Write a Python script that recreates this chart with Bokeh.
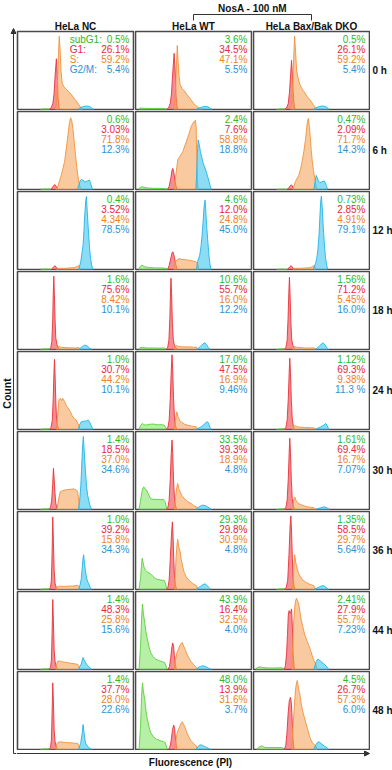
from math import pi
from bokeh.plotting import figure
from bokeh.layouts import row, column
from bokeh.models import Range1d, Arrow, NormalHead
from bokeh.core.properties import value
from bokeh.embed import file_html
from bokeh.resources import INLINE

# ---------------- data ----------------
COLUMN_TITLES = ["HeLa NC", "HeLa WT", "HeLa Bax/Bak DKO"]
ROW_LABELS = ["0 h", "6 h", "12 h", "18 h", "24 h", "30 h", "36 h", "44 h", "48 h"]
PHASE_NAMES = ["subG1:", "G1:", "S:", "G2/M:"]

PCT_NC = [("0.5%", "26.1%", "59.2%", "5.4%"), ("0.6%", "3.03%", "71.8%", "12.3%"),
          ("0.4%", "3.52%", "4.34%", "78.5%"), ("1.6%", "75.6%", "8.42%", "10.1%"),
          ("1.0%", "30.7%", "44.2%", "10.1%"), ("1.4%", "18.5%", "37.0%", "34.6%"),
          ("1.0%", "39.2%", "15.8%", "34.3%"), ("1.4%", "48.3%", "25.8%", "15.6%"),
          ("1.4%", "37.7%", "28.0%", "22.6%")]
PCT_WT = [("3.6%", "34.5%", "47.1%", "5.5%"), ("2.4%", "7.6%", "58.8%", "18.8%"),
          ("4.6%", "12.0%", "24.8%", "45.0%"), ("10.6%", "55.7%", "16.0%", "12.2%"),
          ("17.0%", "47.5%", "16.9%", "9.46%"), ("33.5%", "39.3%", "18.9%", "4.8%"),
          ("29.3%", "29.8%", "30.9%", "4.8%"), ("43.9%", "16.4%", "32.5%", "4.0%"),
          ("48.0%", "13.9%", "31.6%", "3.7%")]
PCT_DKO = [("0.5%", "26.1%", "59.2%", "5.4%"), ("0,47%", "2.09%", "71.7%", "14.3%"),
           ("0.73%", "2.85%", "4.91%", "79.1%"), ("1.56%", "71.2%", "5.45%", "16.0%"),
           ("1.12%", "69.3%", "9.38%", "11.3 %"), ("1.61%", "69.4%", "16.7%", "7.07%"),
           ("1.35%", "58.5%", "29.7%", "5.64%"), ("2.41%", "27.9%", "55.7%", "7.23%"),
           ("4.5%", "26.7%", "57.3%", "6.0%")]

# histogram outlines: (fluorescence position %, count % of panel height)
NC_0H = dict(
    g=[(20, 0), (22, 0.8), (26, 0.8), (28, 0)],
    r=[(27, 0), (29, 2), (30.5, 8), (31.5, 20), (32.5, 45), (33.5, 65), (34.3, 45), (35, 15), (35.8, 3), (36.5, 0)],
    o=[(32.5, 0), (33.5, 8), (34.5, 35), (35.3, 70), (36, 94), (36.8, 75), (37.6, 48), (38.5, 34), (40, 29), (42, 26), (44, 23), (46, 20), (48, 16), (50, 12), (52, 8), (54, 4), (55.5, 1), (56, 0)],
    b=[(52, 0), (54, 2), (56, 3.5), (59, 4.5), (62, 4), (64, 2), (65.5, 0)])
WT_0H = dict(
    g=[(3, 0), (4, 2), (8, 1.5), (15, 1.2), (22, 1.5), (26, 1), (27, 0)],
    r=[(26.5, 0), (28.5, 2), (30, 8), (31, 20), (32, 45), (33.3, 72), (34.2, 50), (35, 18), (35.8, 4), (36.3, 0)],
    o=[(33, 0), (34, 12), (35, 45), (36, 82), (36.8, 60), (37.6, 42), (38.5, 32), (40, 27), (42, 24), (44, 20), (46, 16), (48, 12), (50, 8), (52, 5), (54, 3), (56, 1), (57, 0)],
    b=[(52, 0), (54, 1.5), (57, 3), (60, 4), (62.5, 3.5), (64.5, 1.5), (66, 0)])
DKO_0H = dict(
    g=[(20, 0), (22, 0.8), (26, 0.8), (28, 0)],
    r=[(26.5, 0), (28.5, 2), (30, 8), (31, 22), (32, 45), (32.8, 63), (33.6, 42), (34.5, 14), (35.3, 3), (36, 0)],
    o=[(32, 0), (33, 8), (34, 38), (34.8, 72), (35.4, 94), (36.2, 76), (37.2, 50), (38.5, 40), (40, 32), (42, 26), (43.5, 23), (46, 17), (49, 12), (51, 7), (53, 3), (54, 0)],
    b=[(51.5, 0), (53.5, 2), (56, 3.5), (59, 4.5), (62, 4), (64, 2), (65, 0)])

NC_6H = dict(
    g=[(20, 0), (22, 0.5), (27, 0.5), (29, 0)],
    r=[(28.5, 0), (30, 2.5), (31.2, 5), (32, 6.4), (33, 5), (34, 2), (35, 0)],
    o=[(33, 0), (34.5, 3), (36, 10), (37.7, 18), (39, 26), (40.6, 36), (42, 52), (43.5, 70), (44.8, 86), (45.8, 92), (46.8, 88), (47.8, 78), (49, 60), (50, 44), (51, 30), (52, 18), (53, 9), (53.6, 5), (54.5, 0)],
    b=[(51.5, 0), (53, 6), (54, 11), (55, 13), (56.5, 11.5), (58.5, 10), (60.5, 11), (62, 12), (63, 8), (64, 3), (65, 0)])
WT_6H = dict(
    g=[(3, 0), (4, 3), (6, 3.4), (10, 2), (16, 1.5), (22, 1.5), (26, 1), (27.5, 0)],
    r=[(27.5, 0), (29, 4), (30.5, 15), (31.5, 25), (32.2, 27), (33, 22), (34, 12), (35, 4), (36, 0)],
    o=[(33, 0), (34.5, 15), (36.4, 38), (38.5, 43), (40.8, 48.5), (42.5, 56), (43.7, 61), (45.8, 70), (47, 76), (48, 80.7), (49.5, 85), (50.4, 87), (51, 86), (51.6, 89), (52.3, 80), (52.8, 40), (53.4, 10), (54, 0)],
    b=[(52, 0), (52.6, 15), (53.3, 45), (54, 63.5), (55, 57), (56, 48.5), (57, 42), (58, 35.6), (59.5, 29), (61, 23), (62.3, 16), (63.5, 10), (64.5, 4), (65.6, 0)])
DKO_6H = dict(
    g=[(20, 0), (22, 0.5), (27, 0.5), (29, 0)],
    r=[(29, 0), (30.5, 2.5), (31.8, 5), (32.6, 6), (33.5, 4.5), (34.5, 1.5), (35.2, 0)],
    o=[(34, 0), (36, 10), (39, 18), (40.5, 26), (42, 36), (43.5, 50), (45, 66), (46.2, 84), (47.2, 91), (48.2, 80), (49, 66), (49.8, 50), (50.7, 36), (51.7, 24), (52.8, 14), (53.7, 6), (54.5, 0)],
    b=[(52, 0), (53, 9), (54, 18), (55, 15), (56, 11), (57, 9), (58.5, 9.5), (60, 10.5), (61, 11), (62, 8), (63, 4), (64, 0)])

NC_12H = dict(
    g=[(20, 0), (22, 0.5), (27, 0.5), (29, 0)],
    r=[(29, 0), (30.5, 2), (31.5, 4), (32.3, 4.7), (33.2, 3.5), (34.3, 1.5), (35, 0)],
    o=[(33.5, 0), (35, 1.5), (40, 1.5), (45, 2), (49, 2.5), (51.5, 4), (53, 5), (54, 0)],
    b=[(52.5, 0), (53.5, 4), (54.5, 10), (55.5, 20), (56.5, 31), (57.3, 50), (58, 70), (58.8, 88), (59.4, 93.5), (60.1, 75), (61, 53), (62, 30), (63, 14), (64, 5), (65, 0)])
WT_12H = dict(
    g=[(3, 0), (4, 4), (5.5, 5.6), (8, 3.5), (12, 2.5), (18, 2), (24, 2), (27, 1), (28, 0)],
    r=[(27.7, 0), (29, 5), (30.5, 15), (31.5, 21), (32.2, 22.7), (33, 19), (34, 12), (35, 5), (35.8, 0)],
    o=[(33, 0), (34, 8), (35.6, 12), (37.5, 14), (40, 13), (43, 12.5), (46, 12), (49, 11), (52, 10), (53.5, 8), (54.5, 0)],
    b=[(52.5, 0), (53.5, 10), (55.4, 18.5), (56.5, 30), (57.4, 44), (58.3, 62), (59, 78.5), (59.6, 86), (60, 89), (60.7, 72), (61.5, 53), (62.4, 35), (63.3, 18.5), (64.2, 7), (65, 0)])
DKO_12H = dict(
    g=[(20, 0), (22, 0.5), (27, 0.5), (29, 0)],
    r=[(29, 0), (30.5, 2), (31.6, 4), (32.4, 5), (33.3, 3.5), (34.3, 1.5), (35, 0)],
    o=[(34, 0), (35, 1.5), (40, 1.5), (45, 2), (49, 2.5), (51, 4), (52.5, 5), (53.5, 0)],
    b=[(51.5, 0), (52.5, 4), (53.5, 8), (54.5, 14), (55.5, 25), (56.5, 45), (57.3, 70), (58, 88), (58.5, 94), (59.2, 80), (60, 58), (61, 35), (62, 16), (63, 6), (64, 0)])

NC_18H = dict(
    g=[(20, 0), (22, 0.8), (27, 0.8), (28, 0)],
    r=[(27.5, 0), (28.8, 3), (29.6, 10), (30.3, 35), (30.8, 70), (31.3, 94), (31.8, 70), (32.4, 38), (33, 15), (34, 6), (35, 3), (36, 0)],
    o=[(33.5, 0), (34.5, 3), (35.5, 4), (37, 3), (40, 2.5), (45, 2.2), (50, 2), (53, 2.5), (54, 0)],
    b=[(52.5, 0), (54, 1.5), (56, 4), (58, 5.6), (60, 4.5), (62, 2), (64, 0)])
WT_18H = dict(
    g=[(3, 0), (4, 2.5), (6, 2.5), (10, 2), (15, 2), (20, 1.8), (25, 2), (26.5, 0)],
    r=[(26.5, 0), (27.8, 3), (28.8, 12), (29.6, 40), (30.2, 75), (30.6, 91.4), (31.1, 72), (31.8, 35), (32.6, 12), (33.6, 5), (35, 2), (36, 0)],
    o=[(33, 0), (34, 4), (35, 5), (37, 4), (40, 3.4), (45, 3.4), (50, 3), (52.5, 3), (53.5, 0)],
    b=[(52, 0), (54, 1.5), (56, 4), (58, 7), (59.8, 8.6), (61.3, 6), (62.8, 2.5), (64.5, 0)])
DKO_18H = dict(
    g=[(20, 0), (22, 0.8), (27, 0.8), (28, 0)],
    r=[(26.5, 0), (28, 3), (29, 12), (29.8, 40), (30.5, 75), (31, 92.7), (31.5, 72), (32.2, 36), (33, 12), (34, 5), (35, 2), (36, 0)],
    o=[(33.5, 0), (34.5, 3), (35.5, 4), (37, 3), (40, 2.5), (45, 2), (50, 2), (52.5, 2), (53.5, 0)],
    b=[(52.5, 0), (54.5, 1.5), (56.5, 4), (58.5, 7), (60, 8.6), (61.5, 6), (63, 2.5), (65, 0)])

NC_24H = dict(
    g=[(20, 0), (22, 0.8), (27, 0.8), (28, 0)],
    r=[(27.5, 0), (29, 3), (30, 12), (30.8, 40), (31.4, 72), (31.9, 90), (32.4, 70), (33, 38), (33.6, 15), (34.5, 5), (35.5, 0)],
    o=[(33.5, 0), (34.3, 12), (35.7, 38), (37, 40), (38, 37), (39, 40), (40.6, 35.6), (42, 31), (43, 29), (44.5, 25), (45.5, 23), (47, 18), (47.8, 16), (49, 14), (50.7, 12), (52, 8), (52.8, 5.6), (53.6, 0)],
    b=[(52.5, 0), (53.5, 6), (55, 10), (57, 10.5), (59.4, 11), (61, 12), (62, 10), (63.5, 5), (65, 0)])
WT_24H = dict(
    g=[(3, 0), (4.3, 5), (5.8, 7.7), (7, 6.5), (8.7, 5.6), (11, 6.5), (14, 6.9), (16, 6.9), (19, 6), (22, 6.2), (24.8, 5.6), (26, 3), (27, 0)],
    r=[(26.5, 0), (28, 3), (29, 12), (30, 40), (30.8, 75), (31.5, 95.7), (32.1, 75), (32.8, 40), (33.6, 15), (34.5, 5), (35.5, 0)],
    o=[(33, 0), (34.2, 10), (35, 18), (35.6, 22.7), (36.5, 17), (38, 12), (40, 9), (42, 7), (45, 5.5), (48, 4.5), (50, 4), (52.5, 3.4), (53.5, 0)],
    b=[(52, 0), (54, 1.5), (56, 3), (58, 5), (60, 8), (62, 10), (63.2, 7), (64.2, 2.5), (65, 0)])
DKO_24H = dict(
    g=[(20, 0), (22, 0.8), (27, 0.8), (28, 0)],
    r=[(26.5, 0), (28, 3), (29, 12), (30, 40), (30.8, 75), (31.3, 91.4), (31.9, 72), (32.6, 38), (33.4, 14), (34.3, 5), (35.3, 0)],
    o=[(33.5, 0), (34.5, 4), (35.5, 5), (37, 4), (40, 3), (45, 2.5), (50, 2.2), (52.5, 2), (53.5, 0)],
    b=[(53, 0), (55, 1.5), (57.5, 3), (60, 5), (62.3, 7.7), (63.5, 5), (64.5, 1.5), (65.5, 0)])

NC_30H = dict(
    g=[(20, 0), (22, 0.8), (27, 0.8), (28, 0)],
    r=[(27, 0), (28.5, 3), (29.5, 12), (30.3, 32), (31, 52.8), (31.6, 40), (32.3, 22), (33, 8), (34, 2), (35, 0)],
    o=[(34, 0), (35, 10), (36.8, 22.7), (38.5, 24), (40.6, 25), (43, 25.5), (46.4, 26), (48.5, 26.5), (50.7, 25), (52, 22), (52.8, 10), (53.3, 0)],
    b=[(52.5, 0), (53.5, 10), (54.5, 29), (55.2, 50), (55.7, 68), (56.3, 85), (56.8, 93.6), (57.5, 75), (58.5, 50.6), (59.5, 30), (60.5, 18), (61.4, 12), (62.5, 5), (64, 0)])
WT_30H = dict(
    g=[(3, 0), (4.4, 12), (5.5, 22), (6.5, 28), (7.3, 29), (8.3, 26), (9.6, 25), (11, 20), (13, 14), (15, 13), (19, 13), (22, 12.5), (24, 13), (25.5, 10), (26.5, 4), (27.2, 0)],
    r=[(26.5, 0), (28, 3), (29, 12), (30, 40), (30.8, 72), (31.5, 89), (32.1, 72), (32.8, 38), (33.6, 14), (34.5, 5), (35.5, 0)],
    o=[(33.5, 0), (34.5, 15), (35.5, 28), (36.4, 33.5), (37.2, 27), (38.5, 22.7), (40, 18), (42, 14), (45, 10), (48, 7.7), (50, 5), (52.5, 3.4), (53.5, 0)],
    b=[(52, 0), (54, 2.5), (56, 4.5), (58, 5.6), (60, 5), (62, 3.5), (64, 1.5), (65.5, 0)])
DKO_30H = dict(
    g=[(20, 0), (22, 0.8), (27, 0.8), (28, 0)],
    r=[(26.5, 0), (28, 3), (29, 12), (30, 40), (30.8, 75), (31.3, 91.4), (31.9, 72), (32.6, 38), (33.4, 14), (34.3, 5), (35.3, 0)],
    o=[(33.5, 0), (34.3, 8), (35, 14), (35.6, 16), (36.5, 12), (38, 9), (39, 7.7), (41, 6), (44, 4.5), (46.4, 3.4), (49, 3), (52, 2.5), (53.5, 0)],
    b=[(53, 0), (55, 1), (57.5, 2), (59.5, 3), (61.4, 3.4), (63, 2.5), (64.5, 1), (65.5, 0)])

NC_36H = dict(
    g=[(20, 0), (22, 0.8), (27, 0.8), (28, 0)],
    r=[(27, 0), (28.5, 3), (29.2, 12), (29.8, 45), (30.4, 93), (31, 60), (31.6, 25), (32.4, 8), (33.5, 2), (34.5, 0)],
    o=[(33, 0), (34.2, 3.5), (36, 4.3), (40, 4), (44, 4.3), (48, 4.5), (50.5, 5), (52, 5.5), (53, 4), (53.5, 0)],
    b=[(52.5, 0), (54, 6), (55, 14), (56, 31), (56.5, 40), (57, 44.6), (57.7, 35), (58.5, 24.5), (59.5, 15), (60.5, 10), (61.4, 7.3), (62.5, 3), (64, 0)])
WT_36H = dict(
    g=[(3, 0), (4.4, 15), (5.2, 32), (5.8, 40), (6.6, 34), (7.5, 28), (8.7, 24.5), (10.5, 22), (13, 20), (15, 17), (17.5, 13.7), (20, 12.5), (24.8, 11.6), (26, 7), (27, 0)],
    r=[(26.5, 0), (28, 3), (29, 12), (30, 40), (31, 70), (31.8, 86.7), (32.4, 68), (33, 38), (33.7, 15), (34.5, 5), (35.5, 0)],
    o=[(33.5, 0), (34.3, 20), (35, 42), (35.8, 58), (36.4, 64.4), (37.2, 56), (38.5, 48), (39.5, 38), (40.8, 28.8), (42, 22), (43.7, 16), (46, 12), (48, 9.4), (50, 7), (52.5, 5), (54, 0)],
    b=[(52, 0), (54, 2), (56, 4), (58, 6), (59.8, 7.3), (61.5, 5.5), (63, 3), (64.5, 0)])
DKO_36H = dict(
    g=[(20, 0), (22, 0.8), (27, 0.8), (28, 0)],
    r=[(26.5, 0), (28.3, 3), (29.5, 12), (30.6, 45), (31.5, 80), (32.2, 94.4), (32.8, 75), (33.5, 40), (34.2, 14), (35, 4), (35.8, 0)],
    o=[(33.5, 0), (34.3, 15), (35, 35), (35.6, 44.6), (36.5, 34), (37.7, 26.6), (39, 20), (40.6, 16), (42.5, 12), (45, 9.4), (48, 7), (50, 6), (52, 5), (53.5, 0)],
    b=[(52, 0), (54, 1.5), (56.5, 3), (58.5, 4.5), (60.3, 5), (62, 3.5), (63.5, 1.5), (65, 0)])

NC_44H = dict(
    g=[(20, 0), (22, 0.8), (27, 0.8), (28, 0)],
    r=[(27, 0), (28.5, 3), (29.2, 12), (29.8, 45), (30.4, 89.7), (31, 60), (31.6, 25), (32.4, 10), (33.5, 3), (34.5, 0)],
    o=[(33, 0), (34, 8), (35, 11), (36, 11), (38, 10), (42, 9), (46, 8), (50.7, 7), (52, 6.5), (53, 4), (53.6, 0)],
    b=[(52.5, 0), (53.7, 4), (55, 7), (55.8, 12), (56.5, 15.5), (57.5, 12), (59.4, 7), (61, 4), (62.5, 2), (64, 0)])
WT_44H = dict(
    g=[(3, 0), (4.4, 30), (5.2, 65), (6, 84), (6.8, 72), (7.9, 60.5), (9, 48), (10.2, 39), (11.5, 30), (13, 22), (15, 16.5), (17.5, 13.3), (20, 11.5), (23.3, 10), (25, 9), (26.2, 5), (27, 0)],
    r=[(28, 0), (29.3, 4), (30.3, 14), (31.2, 27), (32, 34), (32.8, 30), (33.5, 18), (34.3, 7), (35.2, 0)],
    o=[(33.5, 0), (34.3, 12), (35.8, 22), (37, 26), (38, 30.5), (39.2, 33), (40.2, 34.8), (41.5, 30), (42.8, 26), (44.3, 20), (45.8, 15.5), (47.5, 11), (49.6, 7), (51.5, 4), (52.5, 2.6), (53.5, 0)],
    b=[(52, 0), (54, 2.5), (56, 4), (58, 4.7), (60, 4), (62, 2.5), (64, 1), (65.5, 0)])
DKO_44H = dict(
    g=[(2, 0), (3, 2.5), (5.8, 3.4), (8, 2.6), (12, 2), (18, 2), (24, 2.2), (26, 1.5), (27, 0)],
    r=[(26.5, 0), (27.5, 5), (28.5, 20), (29.3, 45), (30, 70), (30.7, 75.5), (31.4, 72), (32, 73), (32.8, 77.7), (33.5, 55), (34.2, 20), (35, 4), (35.5, 0)],
    o=[(33, 0), (33.8, 30), (34.6, 60), (35.5, 80), (36.3, 88), (37, 91.4), (38, 88), (39, 84), (40, 74), (41, 64.8), (42.5, 55), (44, 45.5), (46, 37), (47.8, 30.5), (49.3, 24), (50.7, 17.6), (52, 12), (53.6, 6.9), (54.5, 2), (55, 0)],
    b=[(52, 0), (53, 5), (54, 10), (55.6, 13.3), (57, 12), (58.5, 9.5), (60.8, 7), (62.5, 4.5), (64, 2), (65, 0)])

NC_48H = dict(
    g=[(20, 0), (22, 0.8), (27, 0.8), (28, 0)],
    r=[(27, 0), (28.5, 3), (29.2, 12), (29.8, 45), (30.4, 85.4), (31, 60), (31.6, 25), (32.4, 10), (33.5, 3), (34.5, 0)],
    o=[(33, 0), (34, 8), (36, 10), (38, 9.5), (42, 9), (46, 8.5), (50, 8), (52, 7.7), (53, 5), (53.6, 0)],
    b=[(52.5, 0), (53.5, 4), (54.5, 8), (55.2, 16), (55.7, 20), (56.5, 32), (57.5, 20), (58.2, 12), (59, 7), (61, 3), (62.5, 1.5), (64, 0)])
WT_48H = dict(
    g=[(3, 0), (4.4, 30), (5.2, 68), (6, 85.4), (6.8, 75), (7.9, 64.8), (9, 50), (10.2, 39), (11.5, 30), (13, 22), (15, 17), (18, 13.3), (21, 11.5), (24, 10), (25.5, 9), (26.5, 5), (27.2, 0)],
    r=[(28.5, 0), (29.8, 4), (30.8, 12), (31.8, 24), (32.5, 29), (33, 31.3), (33.7, 27), (34.4, 15), (35.2, 5), (35.8, 0)],
    o=[(34, 0), (34.8, 12), (36, 22), (37.5, 27), (38.5, 31), (39.5, 34), (40.2, 35.6), (41.2, 33), (42.8, 28), (44, 23), (45.5, 17.6), (47.5, 12), (49.3, 9), (51, 6), (52.5, 4.7), (53.5, 0)],
    b=[(52, 0), (53.5, 3), (55.4, 6), (57.5, 5.5), (59.5, 4), (61.5, 2.5), (63.5, 1), (65, 0)])
DKO_48H = dict(
    g=[(3, 0), (4.5, 3), (7.2, 4.7), (9, 3), (12, 2.5), (18, 2.5), (24, 2.5), (26, 1.5), (27, 0)],
    r=[(26.5, 0), (27.8, 5), (28.8, 20), (29.8, 45), (30.8, 62), (31.9, 67), (32.6, 60), (33.3, 40), (34, 15), (34.7, 3), (35.3, 0)],
    o=[(33, 0), (33.8, 25), (35, 50), (35.6, 64.8), (36.5, 80), (37.2, 86), (37.7, 88.4), (38.5, 82), (39.2, 75), (39.7, 73), (40.8, 62), (42, 52), (43.5, 43), (45, 34.8), (46.5, 27), (47.8, 19.7), (49, 14), (50.7, 9), (52, 6.5), (53.6, 4.7), (54.5, 1.5), (55, 0)],
    b=[(52, 0), (53, 4), (54.5, 8), (56.5, 10), (58, 8), (60.8, 4.7), (62.5, 3), (64, 1.5), (65, 0)])

HIST_NC = [NC_0H, NC_6H, NC_12H, NC_18H, NC_24H, NC_30H, NC_36H, NC_44H, NC_48H]
HIST_WT = [WT_0H, WT_6H, WT_12H, WT_18H, WT_24H, WT_30H, WT_36H, WT_44H, WT_48H]
HIST_DKO = [DKO_0H, DKO_6H, DKO_12H, DKO_18H, DKO_24H, DKO_30H, DKO_36H, DKO_44H, DKO_48H]

# ---------------- styling ----------------
FILL = dict(g=("#66dd44", 0.48), r=("#f04a50", 0.62), o=("#f5a35a", 0.58), b=("#2ec0ee", 0.55))
EDGE = dict(g="#5ccf3c", r="#e8323a", o="#f0923e", b="#22b4e4")
TXT = dict(g="#2fb82f", r="#e8283c", o="#f08228", b="#2b93d8")
FONT = value("Liberation Sans")
DARK = "#333333"
INK = "#111111"

PW, PH = 118, 80          # panel figure size (frame 116 x 78 inside a 1px border)
FW, FH = 116.0, 78.0
GRID_W, GRID_H = 3 * PW, 9 * PH
HEAD_H, FOOT_H, LEFT_W = 30, 20, 16
RIGHT_W = 392 - LEFT_W - GRID_W
TOP_W = GRID_W + RIGHT_W


def blank(w, h, xr, yr):
    f = figure(width=w, height=h, x_range=xr, y_range=yr, x_axis_type=None, y_axis_type=None,
               output_backend="svg", toolbar_location=None, min_border=0)
    f.outline_line_color = None
    return f


def panel(hist, pcts, with_names):
    f = figure(width=PW, height=PH, x_range=Range1d(0, 100), y_range=Range1d(0, 100),
               x_axis_type=None, y_axis_type=None, output_backend="svg",
               toolbar_location=None, min_border=1)
    f.outline_line_color = "#4a4a4a"
    f.outline_line_width = 1.6
    for k in ["g", "r", "o", "b"]:
        pts = hist[k]
        f.patch([p[0] for p in pts], [p[1] for p in pts], fill_color=FILL[k][0],
                fill_alpha=FILL[k][1], line_color=EDGE[k], line_width=0.9)
    ys = [100 - (7.5 + 10 * i) / FH * 100 for i in range(4)]
    cols = [TXT[k] for k in ["g", "r", "o", "b"]]
    f.text(x=[100 - 4 / FW * 100] * 4, y=ys, text=list(pcts), text_color=cols,
           text_align="right", text_baseline="middle", text_font_size="10px", text_font=FONT)
    if with_names:
        f.text(x=[45] * 4, y=ys, text=PHASE_NAMES, text_color=cols,
               text_align="left", text_baseline="middle", text_font_size="10px", text_font=FONT)
    return f


grid = column(*[row(panel(HIST_NC[r], PCT_NC[r], r == 0),
                    panel(HIST_WT[r], PCT_WT[r], False),
                    panel(HIST_DKO[r], PCT_DKO[r], False)) for r in range(9)])

# header: treatment bracket and column titles
header = blank(TOP_W, HEAD_H, Range1d(0, TOP_W), Range1d(HEAD_H, 0))
centers = [PW * c + PW / 2 for c in range(3)]
header.text(x=centers, y=[25.5] * 3, text=COLUMN_TITLES, text_align="center", text_baseline="middle",
            text_font_size="10px", text_font_style="bold", text_font=FONT, text_color=INK)
header.multi_line(xs=[[centers[1], centers[1], centers[2], centers[2]]], ys=[[20, 14, 14, 20]],
                  line_color=DARK, line_width=1)
header.text(x=[(centers[1] + centers[2]) / 2], y=[7.5], text=["NosA - 100 nM"], text_align="center",
            text_baseline="middle", text_font_size="10px", text_font_style="bold", text_font=FONT,
            text_color=INK)

# right strip: time labels
right = blank(RIGHT_W, GRID_H, Range1d(0, RIGHT_W), Range1d(GRID_H, 0))
right.text(x=[2] * 9, y=[PH * i + PH / 2 for i in range(9)], text=ROW_LABELS, text_align="left",
           text_baseline="middle", text_font_size="10px", text_font_style="bold", text_font=FONT,
           text_color=INK)

# left strip: count axis arrow
TOTAL_H = HEAD_H + GRID_H + FOOT_H
left = blank(LEFT_W, TOTAL_H, Range1d(0, LEFT_W), Range1d(TOTAL_H, 0))
axis_y_bottom = HEAD_H + GRID_H + 3
left.add_layout(Arrow(end=NormalHead(size=5, fill_color=DARK, line_color=DARK, line_width=1),
                      x_start=13, y_start=axis_y_bottom, x_end=13, y_end=HEAD_H - 2,
                      line_color=DARK, line_width=1))
left.segment(x0=[13], y0=[axis_y_bottom], x1=[LEFT_W], y1=[axis_y_bottom], line_color=DARK, line_width=1)
left.text(x=[6], y=[HEAD_H + GRID_H / 2 + 3], text=["Count"], angle=pi / 2, text_align="center",
          text_baseline="middle", text_font_size="10.5px", text_font_style="bold", text_font=FONT,
          text_color=INK)

# footer: fluorescence axis arrow
footer = blank(TOP_W, FOOT_H, Range1d(0, TOP_W), Range1d(FOOT_H, 0))
footer.add_layout(Arrow(end=NormalHead(size=5, fill_color=DARK, line_color=DARK, line_width=1),
                        x_start=0, y_start=3, x_end=GRID_W - 1, y_end=3,
                        line_color=DARK, line_width=1))
footer.text(x=[GRID_W / 2 - 3], y=[12], text=["Fluorescence (PI)"], text_align="center",
            text_baseline="middle", text_font_size="10px", text_font_style="bold", text_font=FONT,
            text_color=INK)

p = row(left, column(header, row(grid, right), footer))

open("out.html", "w").write(file_html(p, INLINE))
